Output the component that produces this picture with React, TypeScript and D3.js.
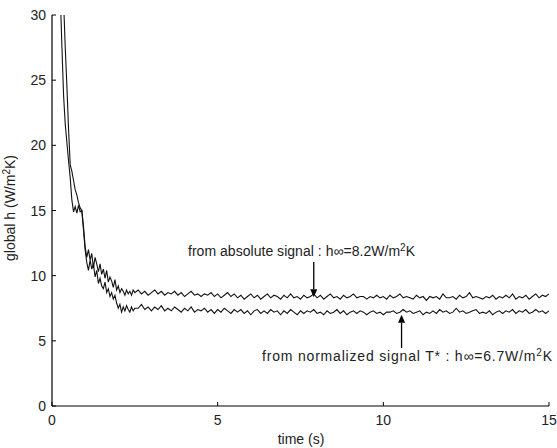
import React from "react";
import * as d3 from "d3";

const W = 557;
const H = 448;

// sampling times (s)
const timeTransient = d3.range(0.25, 2.5001, 0.05).map((t) => Math.round(t * 100) / 100);
const timeSteady = d3.range(2.6, 15.0001, 0.1).map((t) => Math.round(t * 100) / 100);
const time = [...timeTransient, ...timeSteady];

// from absolute signal (upper curve)
const absoluteTransient = [
  34, 33, 31, 27.5, 24.5, 21.2, 18.5, 18.0, 17.3, 16.6, 16.2, 15.6, 15.2, 15.0, 13.8, 12.2,
  11.4, 12.0, 11.2, 11.7, 10.6, 11.4, 10.9, 10.3, 10.9, 10.1,
  10.5, 9.8, 10.4, 9.5, 9.9, 9.6, 9.1, 9.7, 8.9, 9.2,
  8.7, 9.0, 8.8, 8.5, 8.9, 8.6, 8.8, 8.5, 8.9, 8.7,
];
const absoluteSteady = [
  8.9, 8.6, 8.8, 8.5, 8.7, 8.9, 8.6, 8.8, 8.5, 8.7,
  8.6, 8.8, 8.5, 8.7, 8.4, 8.6, 8.8, 8.5, 8.6, 8.4,
  8.6, 8.5, 8.7, 8.4, 8.6, 8.3, 8.5, 8.7, 8.4, 8.6,
  8.3, 8.5, 8.2, 8.4, 8.6, 8.3, 8.5, 8.2, 8.4, 8.6,
  8.3, 8.5, 8.4, 8.2, 8.5, 8.3, 8.6, 8.3, 8.4, 8.2,
  8.5, 8.3, 8.4, 8.6, 8.3, 8.5, 8.2, 8.4, 8.6, 8.3,
  8.4, 8.2, 8.5, 8.3, 8.4, 8.6, 8.3, 8.4, 8.4, 8.2,
  8.4, 8.3, 8.5, 8.3, 8.4, 8.2, 8.5, 8.3, 8.4, 8.6,
  8.3, 8.4, 8.3, 8.2, 8.5, 8.3, 8.4, 8.1, 8.4, 8.3,
  8.4, 8.2, 8.6, 8.3, 8.3, 8.4, 8.2, 8.5, 8.3, 8.4,
  8.7, 8.3, 8.4, 8.3, 8.2, 8.4, 8.3, 8.5, 8.2, 8.4,
  8.3, 8.5, 8.3, 8.6, 8.2, 8.4, 8.3, 8.5, 8.2, 8.4,
  8.6, 8.3, 8.5, 8.4, 8.6,
];

// from normalized signal T* (lower curve)
const normalizedTransient = [
  31.5, 27.5, 23.8, 21.6, 20.2, 18.8, 17.5, 15.8, 14.9, 15.3, 14.8, 15.4, 14.9, 15.0, 13.5, 12.0,
  11.0, 10.4, 11.2, 10.5, 10.9, 9.9, 10.4, 9.4, 9.8, 9.2,
  9.0, 9.5, 8.7, 9.0, 8.4, 8.7, 8.2, 8.5, 7.9, 7.5,
  7.8, 7.2, 7.6, 7.3, 7.7, 7.4, 7.2, 7.6, 7.3, 7.5,
];
const normalizedSteady = [
  7.5, 7.8, 7.4, 7.6, 7.3, 7.6, 7.4, 7.7, 7.3, 7.5,
  7.3, 7.6, 7.4, 7.2, 7.5, 7.3, 7.6, 7.2, 7.4, 7.3,
  7.5, 7.2, 7.4, 7.1, 7.4, 7.2, 7.5, 7.3, 7.1, 7.4,
  7.2, 7.4, 7.1, 7.3, 7.0, 7.3, 7.4, 7.1, 7.3, 7.1,
  7.4, 7.2, 7.3, 7.0, 7.3, 7.1, 7.4, 7.2, 7.0, 7.3,
  7.1, 7.3, 7.2, 7.4, 7.1, 7.2, 7.0, 7.3, 7.1, 7.2,
  7.4, 7.1, 7.3, 7.0, 7.2, 7.3, 7.1, 7.3, 7.2, 7.0,
  7.2, 7.3, 7.1, 7.2, 7.0, 7.2, 7.2, 7.3, 7.1, 7.2,
  7.4, 7.2, 7.3, 7.1, 7.2, 7.3, 7.0, 7.2, 7.1, 7.3,
  7.1, 7.4, 7.2, 7.3, 7.1, 7.2, 7.5, 7.2, 7.3, 7.1,
  7.2, 7.3, 7.4, 7.1, 7.2, 7.1, 7.3, 7.0, 7.2, 7.3,
  7.1, 7.3, 7.2, 7.4, 7.1, 7.3, 7.2, 7.4, 7.1, 7.2,
  7.4, 7.2, 7.3, 7.1, 7.3,
];

const absoluteSignal = [...absoluteTransient, ...absoluteSteady];
const normalizedSignal = [...normalizedTransient, ...normalizedSteady];

const xTicks = [0, 5, 10, 15];
const yTicks = [0, 5, 10, 15, 20, 25, 30];

// annotations: [time, arrow tail value, arrow tip value]
const absArrow = [7.9, 11.05, 8.35];
const normArrow = [10.55, 4.45, 7.0];

const margin = { left: 52, right: 8, top: 15, bottom: 42 };
const FONT = "'Liberation Sans', Arial, sans-serif";
const TXT = "#222";

export default function App() {
  const x = d3.scaleLinear().domain([0, 15]).range([margin.left, W - margin.right]);
  const y = d3.scaleLinear().domain([0, 30]).range([H - margin.bottom, margin.top]);

  const line = d3
    .line<number>()
    .x((_, i) => x(time[i]))
    .y((d) => y(d));

  const arrow = (a: number[], up: boolean) => {
    const ax = x(a[0]);
    const tail = y(a[1]);
    const tip = y(a[2]);
    const hl = 8;
    const hw = 3.5;
    const base = up ? tip + hl : tip - hl;
    return (
      <g>
        <line x1={ax} x2={ax} y1={tail} y2={base} stroke="#000" strokeWidth={1.3} />
        <path d={`M${ax},${tip}L${ax - hw},${base}L${ax + hw},${base}Z`} fill="#000" />
      </g>
    );
  };

  return (
    <svg
      width={W}
      height={H}
      style={{ position: "absolute", left: 0, top: 0, background: "#fff" }}
      fontFamily={FONT}
    >
      <defs>
        <clipPath id="plot">
          <rect x={x(0)} y={y(30)} width={x(15) - x(0)} height={y(0) - y(30)} />
        </clipPath>
      </defs>
      <g clipPath="url(#plot)" fill="none" stroke="#111" strokeWidth={1.1}>
        <path d={line(absoluteSignal) || ""} />
        <path d={line(normalizedSignal) || ""} />
      </g>

      {/* axes */}
      <line x1={x(0)} x2={x(0)} y1={y(0)} y2={y(30)} stroke="#000" strokeWidth={1.2} />
      <line x1={x(0)} x2={x(15)} y1={y(0)} y2={y(0)} stroke="#000" strokeWidth={1.2} />
      {yTicks.map((t) => (
        <g key={"y" + t}>
          <line x1={x(0)} x2={x(0) + 4} y1={y(t)} y2={y(t)} stroke="#000" />
          <text x={x(0) - 6} y={y(t) + 5} textAnchor="end" fontSize={14} fill={TXT}>
            {t}
          </text>
        </g>
      ))}
      {xTicks.map((t) => (
        <g key={"x" + t}>
          <line x1={x(t)} x2={x(t)} y1={y(0)} y2={y(0) - 4} stroke="#000" />
          <text x={x(t)} y={y(0) + 19} textAnchor="middle" fontSize={14} fill={TXT}>
            {t}
          </text>
        </g>
      ))}

      <text x={301} y={444} textAnchor="middle" fontSize={14} fill={TXT}>
        time (s)
      </text>
      <text
        transform={`translate(15,208) rotate(-90)`}
        textAnchor="middle"
        fontSize={14}
        fill={TXT}
      >
        global h (W/m<tspan dy={-5} fontSize={10}>2</tspan>
        <tspan dy={5}>K)</tspan>
      </text>

      {arrow(absArrow, false)}
      {arrow(normArrow, true)}

      <text x={188} y={256} fontSize={14} fill={TXT} textLength={227} lengthAdjust="spacing">
        from absolute signal : h∞=8.2W/m<tspan dy={-5} fontSize={10}>2</tspan>
        <tspan dy={5}>K</tspan>
      </text>
      <text x={262} y={361} fontSize={14} fill={TXT} textLength={290} lengthAdjust="spacing">
        from normalized signal T* : h∞=6.7W/m<tspan dy={-5} fontSize={10}>2</tspan>
        <tspan dy={5}>K</tspan>
      </text>
    </svg>
  );
}
